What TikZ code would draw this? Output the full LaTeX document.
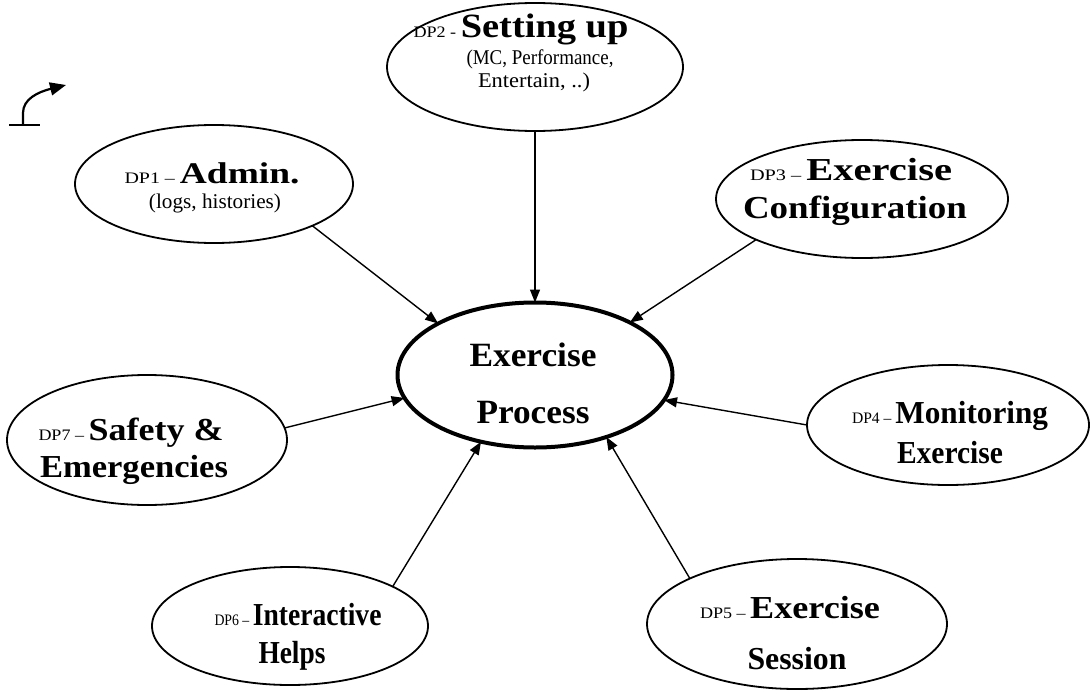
\documentclass[tikz,border=0pt]{standalone}
\usepackage{fontspec}
\usepackage{graphicx}
\setmainfont{Liberation Serif}
\usetikzlibrary{arrows.meta,shapes.geometric}

% stretch a line of text to a given width, keeping its height
\newcommand\fitw[2]{\resizebox{#1}{\height}{#2}}
% the small "DPn –" prefix in front of each title
\newcommand\dptag[1]{{\fontsize{16}{16}\selectfont\mdseries #1 }}

\tikzset{
  dpnode/.style={ellipse, draw, line width=1.8pt, inner sep=0pt, outer sep=0pt},
  hub/.style={ellipse, draw, line width=4pt, inner sep=0pt, outer sep=0pt},
  titleline/.style={anchor=base, inner sep=0pt, font=\fontsize{32}{32}\selectfont\bfseries},
  noteline/.style={anchor=base, inner sep=0pt, font=\fontsize{21}{21}\selectfont},
  feed/.style={line width=1.4pt, -{Triangle[length=13pt,width=10pt]}}
}

\begin{document}
\begin{tikzpicture}[x=1pt,y=-1pt]
\useasboundingbox (0,0) rectangle (1091,693);

% central process
\node[hub, minimum width=275pt, minimum height=145pt] (proc) at (535,375) {};
\node[titleline, font=\fontsize{34}{34}\selectfont\bfseries] (procA) at (533,366) {\fitw{127pt}{Exercise}};
\node[titleline, font=\fontsize{34}{34}\selectfont\bfseries] (procB) at (533,423) {\fitw{113pt}{Process}};

% DP1
\node[dpnode, minimum width=278pt, minimum height=118pt] (dp1) at (214,184) {};
\node[titleline, font=\fontsize{30}{30}\selectfont\bfseries] (dp1a) at (212,183) {\fitw{175pt}{\dptag{DP1 –}Admin.}};
\node[noteline] (dp1b) at (215,208) {\fitw{132pt}{(logs, histories)}};

% DP2
\node[dpnode, minimum width=296pt, minimum height=128pt] (dp2) at (535,67) {};
\node[titleline, font=\fontsize{34}{34}\selectfont\bfseries] (dp2a) at (521,38) {\fitw{215pt}{\dptag{DP2 -}Setting up}};
\node[noteline] (dp2b) at (540,64) {\fitw{147pt}{(MC, Performance,}};
\node[noteline] (dp2c) at (534,88) {\fitw{112pt}{Entertain, ..)}};

% DP3
\node[dpnode, minimum width=292pt, minimum height=118pt] (dp3) at (862,199) {};
\node[titleline] (dp3a) at (851,180) {\fitw{202pt}{\dptag{DP3 –}Exercise}};
\node[titleline] (dp3b) at (855,218) {\fitw{224pt}{Configuration}};

% DP4
\node[dpnode, minimum width=282pt, minimum height=120pt] (dp4) at (948,425) {};
\node[titleline] (dp4a) at (950,423) {\fitw{196pt}{\dptag{DP4 –}Monitoring}};
\node[titleline] (dp4b) at (950,463) {\fitw{106pt}{Exercise}};

% DP5
\node[dpnode, minimum width=300pt, minimum height=130pt] (dp5) at (797,624) {};
\node[titleline] (dp5a) at (790,618) {\fitw{180pt}{\dptag{DP5 –}Exercise}};
\node[titleline] (dp5b) at (797,669) {\fitw{99pt}{Session}};

% DP6
\node[dpnode, minimum width=276pt, minimum height=118pt] (dp6) at (290,626) {};
\node[titleline] (dp6a) at (298,625) {\fitw{167pt}{\dptag{DP6 –}Interactive}};
\node[titleline] (dp6b) at (292,663) {\fitw{67pt}{Helps}};

% DP7
\node[dpnode, minimum width=280pt, minimum height=130pt] (dp7) at (147,440) {};
\node[titleline] (dp7a) at (131,440) {\fitw{185pt}{\dptag{DP7 –}Safety \&}};
\node[titleline] (dp7b) at (134,477) {\fitw{188pt}{Emergencies}};

% connectors into the process
\draw[feed] (dp1.-23) -- (proc.152);
\draw[feed] (dp2.-90) -- (proc.90);
\draw[feed] (dp3.-159) -- (proc.29);
\draw[feed] (dp4.180) -- (proc.-11);
\draw[feed] (dp5.157) -- (proc.-41);
\draw[feed] (dp6.21) -- (proc.-129);
\draw[feed] (dp7.5) -- (proc.-170);

% small curved-arrow symbol, top left
\draw[line width=1.6pt] (9,125) -- (40,125);
\draw[line width=2.2pt, -{Triangle[length=16pt,width=13pt]}]
  (23,125) -- (23,113) .. controls (23,99) and (38,92) .. (66,85);
\end{tikzpicture}
\end{document}
